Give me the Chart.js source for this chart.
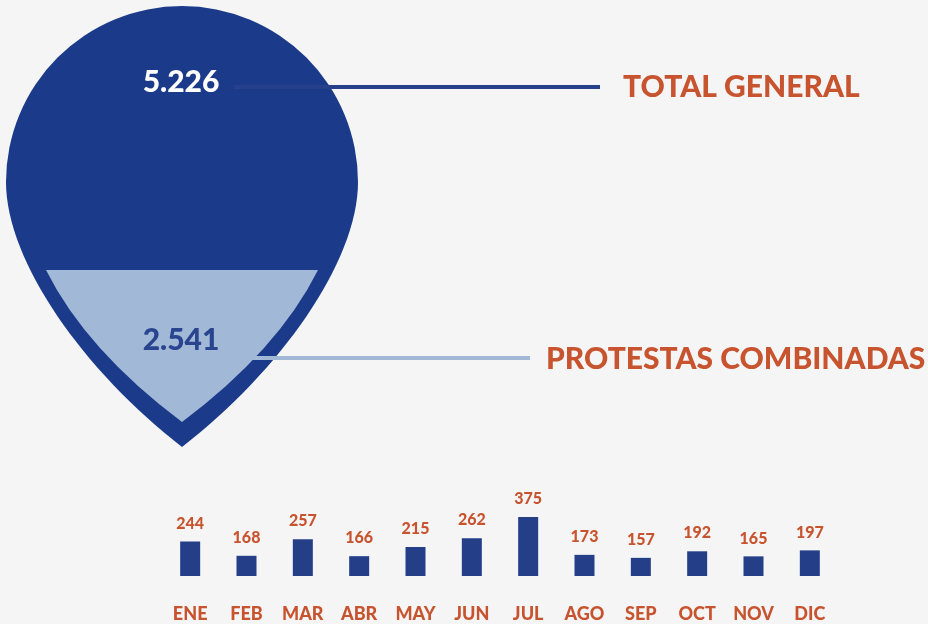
<!DOCTYPE html>
<html>
<head>
<meta charset="utf-8">
<script src="https://cdn.jsdelivr.net/npm/chart.js@4"></script>
<style>
  html, body { margin: 0; padding: 0; background: #f5f5f5; }
  #wrap { position: relative; width: 928px; height: 624px; }
</style>
</head>
<body>
<div id="wrap"><canvas id="protestasChart"></canvas></div>
<script>
// datos
const months = ["ENE", "FEB", "MAR", "ABR", "MAY", "JUN", "JUL", "AGO", "SEP", "OCT", "NOV", "DIC"];
const monthlyCounts = [244, 168, 257, 166, 215, 262, 375, 173, 157, 192, 165, 197];
const summaryLabels = ["TOTAL GENERAL", "PROTESTAS COMBINADAS"];
const summaryValues = [5226, 2541];

const DARK = "#1c3a8a";
const LIGHT = "#a2b8d7";
const BAR = "#253e88";
const ORANGE = "#c8532f";
const FONT = "Lato, 'Open Sans', sans-serif";

// 5226 -> "5.226"
function fmt(n) {
  return String(n).replace(/\B(?=(\d{3})+(?!\d))/g, ".");
}

// gota con el total y las protestas combinadas
const dropPlugin = {
  id: "drop",
  beforeDatasetsDraw(chart) {
    const ctx = chart.ctx;
    ctx.save();

    // gota exterior
    ctx.beginPath();
    ctx.moveTo(182, 447);
    ctx.bezierCurveTo(85, 372, 6, 262, 6, 182);
    ctx.arc(182, 182, 176, Math.PI, 0, false);
    ctx.bezierCurveTo(358, 262, 279, 372, 182, 447);
    ctx.closePath();
    ctx.fillStyle = DARK;
    ctx.fill();

    // triangulo interior
    ctx.beginPath();
    ctx.moveTo(46, 270);
    ctx.lineTo(318, 270);
    ctx.quadraticCurveTo(278, 350, 182, 422);
    ctx.quadraticCurveTo(86, 350, 46, 270);
    ctx.closePath();
    ctx.fillStyle = LIGHT;
    ctx.fill();

    // lineas guia
    ctx.lineWidth = 4;
    ctx.strokeStyle = "#26408c";
    ctx.beginPath();
    ctx.moveTo(234, 87);
    ctx.lineTo(600, 87);
    ctx.stroke();

    ctx.strokeStyle = LIGHT;
    ctx.beginPath();
    ctx.moveTo(252, 358);
    ctx.lineTo(530, 358);
    ctx.stroke();

    // valores
    ctx.textAlign = "center";
    ctx.textBaseline = "middle";
    ctx.font = "900 30px " + FONT;
    ctx.fillStyle = "#ffffff";
    ctx.fillText(fmt(summaryValues[0]), 181, 82);
    ctx.fillStyle = "#2a4590";
    ctx.fillText(fmt(summaryValues[1]), 181, 340);

    // etiquetas
    ctx.textAlign = "left";
    ctx.fillStyle = ORANGE;
    ctx.font = "900 30px " + FONT;
    ctx.fillText(summaryLabels[0], 623, 87);
    ctx.fillText(summaryLabels[1], 546, 359);

    ctx.restore();
  },
};

// numeros encima de cada barra
const barValuePlugin = {
  id: "barValues",
  afterDatasetsDraw(chart) {
    const ctx = chart.ctx;
    const meta = chart.getDatasetMeta(0);
    ctx.save();
    ctx.font = "900 16px " + FONT;
    ctx.fillStyle = ORANGE;
    ctx.textAlign = "center";
    ctx.textBaseline = "middle";
    meta.data.forEach((bar, i) => {
      ctx.fillText(String(monthlyCounts[i]), bar.x, bar.y - 18);
    });
    ctx.restore();
  },
};

const ctx = document.getElementById("protestasChart").getContext("2d");
const protestasChart = new Chart(ctx, {
  type: "bar",
  data: {
    labels: months,
    datasets: [
      {
        data: monthlyCounts,
        backgroundColor: BAR,
        barPercentage: 0.355,
        categoryPercentage: 1,
      },
    ],
  },
  options: {
    responsive: true,
    maintainAspectRatio: false,
    animation: false,
    layout: { padding: { left: 162, right: 90, top: 460, bottom: 0 } },
    plugins: {
      legend: { display: false },
      tooltip: { enabled: false },
    },
    scales: {
      x: {
        grid: { display: false },
        border: { display: false },
        ticks: {
          color: ORANGE,
          font: { family: FONT, size: 18, weight: "900" },
          padding: 19,
          maxRotation: 0,
          autoSkip: false,
        },
        afterFit: (scale) => {
          scale.height = 48;
        },
      },
      y: {
        display: false,
        min: 60,
        max: 680,
      },
    },
  },
  plugins: [dropPlugin, barValuePlugin],
});
</script>
</body>
</html>
